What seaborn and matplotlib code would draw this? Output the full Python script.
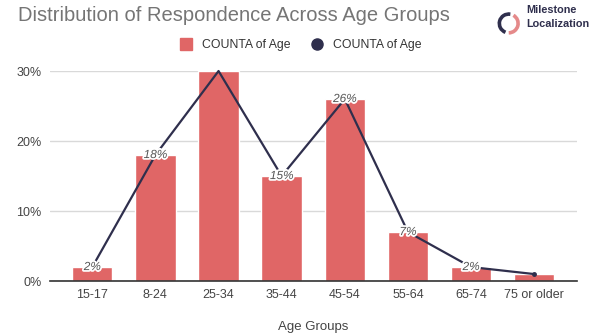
import matplotlib
matplotlib.use("Agg")
import matplotlib.pyplot as plt
import matplotlib.patheffects as pe
from matplotlib.patches import Arc
from matplotlib.ticker import FuncFormatter
from matplotlib.lines import Line2D
import seaborn as sns
import pandas as pd

categories = ["15-17", "8-24", "25-34", "35-44", "45-54", "55-64", "65-74", "75 or older"]
values = [2, 18, 30, 15, 26, 7, 2, 1]
labeled = [True, True, False, True, True, True, True, False]

df = pd.DataFrame({"Age Groups": categories, "Share": values})

sns.set_theme(style="white")
plt.rcParams["font.family"] = ["Liberation Sans", "DejaVu Sans"]

bar_color = "#e06666"
line_color = "#2f2f4d"
text_gray = "#444444"

fig = plt.figure(figsize=(5.95, 3.35), dpi=100)
ax = fig.add_axes([0.084, 0.161, 0.886, 0.627])

sns.barplot(data=df, x="Age Groups", y="Share", color=bar_color, width=0.64,
            saturation=1, ax=ax, zorder=2)
sns.lineplot(x=range(len(values)), y=values, color=line_color, linewidth=1.6,
             ax=ax, zorder=3, clip_on=False)
ax.plot([len(values) - 1], [values[-1]], "o", color=line_color, markersize=2.5, zorder=4)

for i, (v, show) in enumerate(zip(values, labeled)):
    if show:
        ax.text(i, v, f"{v}%", ha="center", va="center", fontsize=8.5,
                color="#555555", style="italic", zorder=5,
                path_effects=[pe.withStroke(linewidth=2.5, foreground="white")])

ax.set_ylim(0, 30)
ax.set_xlim(-0.67, 7.68)
ax.set_yticks([0, 10, 20, 30])
ax.yaxis.set_major_formatter(FuncFormatter(lambda v, p: f"{int(v)}%"))
ax.grid(axis="y", color="#d9d9d9", linewidth=1, zorder=0)
ax.set_axisbelow(True)
for s in ["top", "right", "left"]:
    ax.spines[s].set_visible(False)
ax.spines["bottom"].set_color("#333333")
ax.spines["bottom"].set_linewidth(1.2)
ax.tick_params(axis="both", length=0, labelsize=9, colors=text_gray, pad=6)
ax.set_ylabel("")
ax.set_xlabel("Age Groups", fontsize=9.5, color=text_gray, labelpad=14)

fig.text(0.03, 0.955, "Distribution of Respondence Across Age Groups", fontsize=14.5,
         color="#757575", ha="left", va="center")

# legend
handles = [Line2D([], [], marker="s", linestyle="none", color=bar_color, markersize=9),
           Line2D([], [], marker="o", linestyle="none", color=line_color, markersize=8)]
fig.legend(handles, ["COUNTA of Age", "COUNTA of Age"], loc="center",
           bbox_to_anchor=(0.50, 0.866), ncol=2, frameon=False, fontsize=8.8,
           handletextpad=0.3, columnspacing=1.2, labelcolor="#333333")

# logo
lax = fig.add_axes([0.835, 0.895, 0.04, 0.07])
lax.set_xlim(-1, 1); lax.set_ylim(-1, 1); lax.set_aspect("equal"); lax.axis("off")
lax.add_patch(Arc((0, 0), 1.6, 1.6, theta1=80, theta2=250, color=line_color, lw=2.6))
lax.add_patch(Arc((0, 0), 1.6, 1.6, theta1=270, theta2=60, color="#e58a8a", lw=2.6))
fig.text(0.884, 0.970, "Milestone", fontsize=7.8, fontweight="bold", color=line_color,
         ha="left", va="center")
fig.text(0.884, 0.928, "Localization", fontsize=7.8, fontweight="bold", color=line_color,
         ha="left", va="center")

fig.savefig("out.png", dpi=100)
